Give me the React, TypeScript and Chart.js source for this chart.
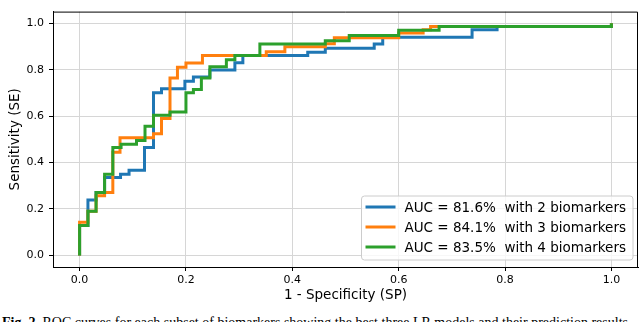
import React, { useEffect, useRef } from 'react';
import { Chart, registerables } from 'chart.js';

Chart.register(...registerables);

const seriesLabels = [
  'AUC = 81.6%  with 2 biomarkers',
  'AUC = 84.1%  with 3 biomarkers',
  'AUC = 83.5%  with 4 biomarkers',
];
const seriesColors = ['#1f77b4', '#ff7f0e', '#2ca02c'];
const tickValues = [0, 0.2, 0.4, 0.6, 0.8, 1.0];

// ROC corner points (fpr, tpr) for each model
const fpr2 = [0, 0, 0.0157, 0.031, 0.047, 0.077, 0.093, 0.122, 0.139, 0.154, 0.198, 0.214, 0.245, 0.292, 0.307, 0.429, 0.462, 0.554, 0.57, 0.738, 0.785, 1.0];
const tpr2 = [0, 0.129, 0.239, 0.271, 0.336, 0.35, 0.367, 0.465, 0.701, 0.718, 0.75, 0.768, 0.799, 0.83, 0.861, 0.875, 0.892, 0.91, 0.94, 0.972, 0.986, 1.0];

const fpr3 = [0, 0, 0.0157, 0.031, 0.047, 0.0625, 0.076, 0.139, 0.154, 0.17, 0.184, 0.2, 0.231, 0.351, 0.386, 0.462, 0.479, 0.6, 0.646, 0.66, 1.0];
const tpr3 = [0, 0.143, 0.19, 0.257, 0.271, 0.444, 0.507, 0.524, 0.59, 0.764, 0.81, 0.829, 0.861, 0.877, 0.899, 0.912, 0.9375, 0.958, 0.972, 0.986, 1.0];

const fpr4 = [0, 0, 0.0157, 0.031, 0.047, 0.0625, 0.078, 0.107, 0.123, 0.139, 0.17, 0.2, 0.214, 0.229, 0.245, 0.276, 0.292, 0.339, 0.462, 0.507, 0.6, 0.676, 1.0];
const tpr4 = [0, 0.129, 0.19, 0.271, 0.35, 0.465, 0.479, 0.495, 0.556, 0.604, 0.618, 0.701, 0.715, 0.764, 0.8125, 0.843, 0.861, 0.91, 0.924, 0.947, 0.97, 0.986, 1.0];

const captionText = 'Fig. 2.';
const captionRest = ' ROC curves for each subset of biomarkers showing the best three LR models and their prediction results';

const FONT = '"DejaVu Sans", sans-serif';
const LABEL_SIZE = 13.5;

const toPoints = (xs: number[], ys: number[]) => xs.map((x, i) => ({ x, y: ys[i] }));

const framePlugin = {
  id: 'frameAndLegend',
  afterDatasetsDraw(chart: any) {
    const { ctx, chartArea } = chart;
    const { left, right, top, bottom } = chartArea;
    ctx.save();
    // top/right spines
    ctx.strokeStyle = '#000';
    ctx.lineWidth = 1;
    ctx.beginPath();
    ctx.moveTo(left, top + 0.5);
    ctx.lineTo(right - 0.5, top + 0.5);
    ctx.lineTo(right - 0.5, bottom);
    ctx.stroke();

    // legend
    ctx.font = `${LABEL_SIZE}px ${FONT}`;
    const textW = Math.max(...seriesLabels.map((l) => ctx.measureText(l).width));
    const rowH = 20;
    const pad = 4;
    const lineLen = 30;
    const gap = 9;
    const boxW = pad + lineLen + gap + textW + 7;
    const boxH = rowH * seriesLabels.length + 4;
    const bx = right - 5 - boxW;
    const by = bottom - 7 - boxH;
    ctx.beginPath();
    const r = 3;
    ctx.moveTo(bx + r, by);
    ctx.lineTo(bx + boxW - r, by);
    ctx.quadraticCurveTo(bx + boxW, by, bx + boxW, by + r);
    ctx.lineTo(bx + boxW, by + boxH - r);
    ctx.quadraticCurveTo(bx + boxW, by + boxH, bx + boxW - r, by + boxH);
    ctx.lineTo(bx + r, by + boxH);
    ctx.quadraticCurveTo(bx, by + boxH, bx, by + boxH - r);
    ctx.lineTo(bx, by + r);
    ctx.quadraticCurveTo(bx, by, bx + r, by);
    ctx.closePath();
    ctx.fillStyle = 'rgba(255,255,255,0.8)';
    ctx.fill();
    ctx.lineWidth = 1;
    ctx.strokeStyle = '#cccccc';
    ctx.stroke();
    seriesLabels.forEach((label, i) => {
      const cy = by + 11 + i * rowH;
      ctx.strokeStyle = seriesColors[i];
      ctx.lineWidth = 3;
      ctx.beginPath();
      ctx.moveTo(bx + pad, cy);
      ctx.lineTo(bx + pad + lineLen, cy);
      ctx.stroke();
      ctx.fillStyle = '#000';
      ctx.textBaseline = 'middle';
      ctx.textAlign = 'left';
      ctx.fillText(label, bx + pad + lineLen + gap, cy + 1);
    });
    ctx.restore();
  },
};

export default function App() {
  const ref = useRef<HTMLCanvasElement>(null);

  useEffect(() => {
    document.body.style.margin = '0';
    const canvas = ref.current;
    if (!canvas) return;
    const data = [toPoints(fpr2, tpr2), toPoints(fpr3, tpr3), toPoints(fpr4, tpr4)];
    const chart = new Chart(canvas, {
      type: 'line',
      data: {
        datasets: data.map((pts, i) => ({
          label: seriesLabels[i],
          data: pts,
          borderColor: seriesColors[i],
          backgroundColor: seriesColors[i],
          borderWidth: 3,
          pointRadius: 0,
          stepped: 'before' as const,
          fill: false,
          order: 3 - i,
        })),
      },
      options: {
        responsive: false,
        animation: false,
        layout: { padding: { top: 2, right: 2, left: 0, bottom: 0 } },
        plugins: { legend: { display: false }, tooltip: { enabled: false } },
        scales: {
          x: {
            type: 'linear',
            min: -0.05,
            max: 1.05,
            afterBuildTicks: (s: any) => {
              s.ticks = tickValues.map((v) => ({ value: v }));
            },
            afterFit: (s: any) => {
              s.height = 43;
            },
            ticks: {
              color: '#000',
              font: { family: FONT, size: 11 },
              padding: 3,
              maxRotation: 0,
              callback: (v: any) => Number(v).toFixed(1),
            },
            grid: { color: '#d6d6d6', lineWidth: 1, tickLength: 4, tickColor: '#000' },
            border: { display: true, color: '#000', width: 1 },
            title: {
              display: true,
              text: '1 - Specificity (SP)',
              color: '#000',
              font: { family: FONT, size: LABEL_SIZE },
              padding: { top: 0, bottom: 6 },
            },
          },
          y: {
            type: 'linear',
            min: -0.05,
            max: 1.05,
            afterBuildTicks: (s: any) => {
              s.ticks = tickValues.map((v) => ({ value: v }));
            },
            afterFit: (s: any) => {
              s.width = 53;
            },
            ticks: {
              color: '#000',
              font: { family: FONT, size: 11 },
              padding: 5,
              callback: (v: any) => Number(v).toFixed(1),
            },
            grid: { color: '#d6d6d6', lineWidth: 1, tickLength: 4, tickColor: '#000' },
            border: { display: true, color: '#000', width: 1 },
            title: {
              display: true,
              text: 'Sensitivity (SE)',
              color: '#000',
              font: { family: FONT, size: LABEL_SIZE },
              padding: { top: 7, bottom: 0 },
            },
          },
        },
      },
      plugins: [framePlugin],
    });
    return () => chart.destroy();
  }, []);

  return (
    <div style={{ position: 'relative', width: 640, height: 322, overflow: 'hidden', background: '#fff' }}>
      <canvas ref={ref} width={640} height={310} style={{ display: 'block', width: 640, height: 310 }} />
      <div
        style={{
          position: 'absolute',
          left: 2,
          top: 315,
          whiteSpace: 'nowrap',
          fontFamily: '"Liberation Serif", serif',
          fontSize: 14,
          lineHeight: '16px',
          color: '#000',
        }}
      >
        <b>{captionText}</b>
        {captionRest}
      </div>
    </div>
  );
}
